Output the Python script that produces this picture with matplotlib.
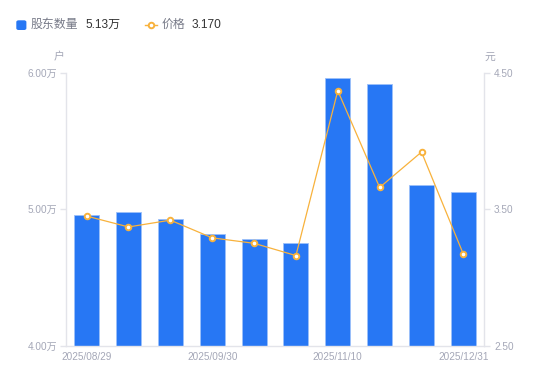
import numpy as np
import matplotlib
matplotlib.use('Agg')
import matplotlib.pyplot as plt
from matplotlib.patches import FancyBboxPatch
from matplotlib.lines import Line2D

plt.rcParams['font.family'] = ['Liberation Sans', 'Noto Sans CJK SC', 'DejaVu Sans']

# holders in units of 10k (万), price in yuan
holders = [4.96, 4.98, 4.93, 4.82, 4.78, 4.75, 5.96, 5.92, 5.18, 5.13]
price = [3.45, 3.37, 3.42, 3.29, 3.25, 3.16, 4.37, 3.66, 3.92, 3.17]
date_labels = ['2025/08/29', '2025/09/30', '2025/11/10', '2025/12/31']
date_idx = [0, 3, 6, 9]
left_ticks = [4.0, 5.0, 6.0]
right_ticks = [2.5, 3.5, 4.5]

blue = '#2777f4'
orange = '#f8b23c'
axis_col = '#e3e4ea'
tick_col = '#a4a7b7'

fig = plt.figure(figsize=(5.5, 3.81), dpi=100)
ax = fig.add_axes([65.7/550, 35.5/381, 418.6/550, 272.5/381])
ax2 = ax.twinx()

x = np.arange(len(holders))
ax.bar(x, holders, width=0.6, color=blue, edgecolor='#9cc0fa', linewidth=0.6, zorder=2)
ax2.plot(x, price, color=orange, lw=0.9, marker='o', ms=4, mfc='white',
         mec=orange, mew=1.4, zorder=3)

ax.set_xlim(-0.5, len(holders) - 0.5)
ax.set_ylim(4.0, 6.0)
ax2.set_ylim(2.5, 4.5)

ax.set_yticks(left_ticks)
ax.set_yticklabels(['%.2f万' % v for v in left_ticks])
ax2.set_yticks(right_ticks)
ax2.set_yticklabels(['%.2f' % v for v in right_ticks])

ax.set_xticks(date_idx)
ax.set_xticklabels(date_labels)

for a in (ax, ax2):
    for s in a.spines.values():
        s.set_visible(False)
ax.spines['left'].set_visible(True)
ax.spines['bottom'].set_visible(True)
ax2.spines['right'].set_visible(True)
for s in (ax.spines['left'], ax.spines['bottom'], ax2.spines['right']):
    s.set_color(axis_col)
    s.set_linewidth(1)

ax.tick_params(axis='y', colors=axis_col, labelcolor=tick_col, labelsize=7.2,
               length=4, width=1, pad=2)
ax2.tick_params(axis='y', colors=axis_col, labelcolor=tick_col, labelsize=7.2,
                length=4, width=1, pad=3)
ax.tick_params(axis='x', length=0, labelcolor=tick_col, labelsize=7.2, pad=5)

fig.text(59/550, 1 - 57/381, '户', color=tick_col, fontsize=7.8, ha='center', va='center')
fig.text(490/550, 1 - 57/381, '元', color=tick_col, fontsize=7.8, ha='center', va='center')

# legend
ly = 1 - 25/381
fig.add_artist(FancyBboxPatch((17/550, 1 - 29.3/381), 8.7/550, 8.3/381,
                              boxstyle='round,pad=0,rounding_size=0.003',
                              color=blue, transform=fig.transFigure))
fig.text(31/550, ly, '股东数量', color='#777a88', fontsize=8.6, va='center')
fig.text(85/550, ly, '%.2f万' % holders[-1], color='#333333', fontsize=8.6, va='center')
fig.add_artist(Line2D([145/550, 157/550], [ly] * 2, color=orange, lw=1,
                      transform=fig.transFigure))
fig.add_artist(Line2D([151/550], [ly], color=orange, marker='o', ms=4,
                      mfc='white', mew=1.4, transform=fig.transFigure))
fig.text(162/550, ly, '价格', color='#777a88', fontsize=8.6, va='center')
fig.text(192/550, ly, '%.3f' % price[-1], color='#333333', fontsize=8.6, va='center')

fig.savefig('out.png', dpi=100)
